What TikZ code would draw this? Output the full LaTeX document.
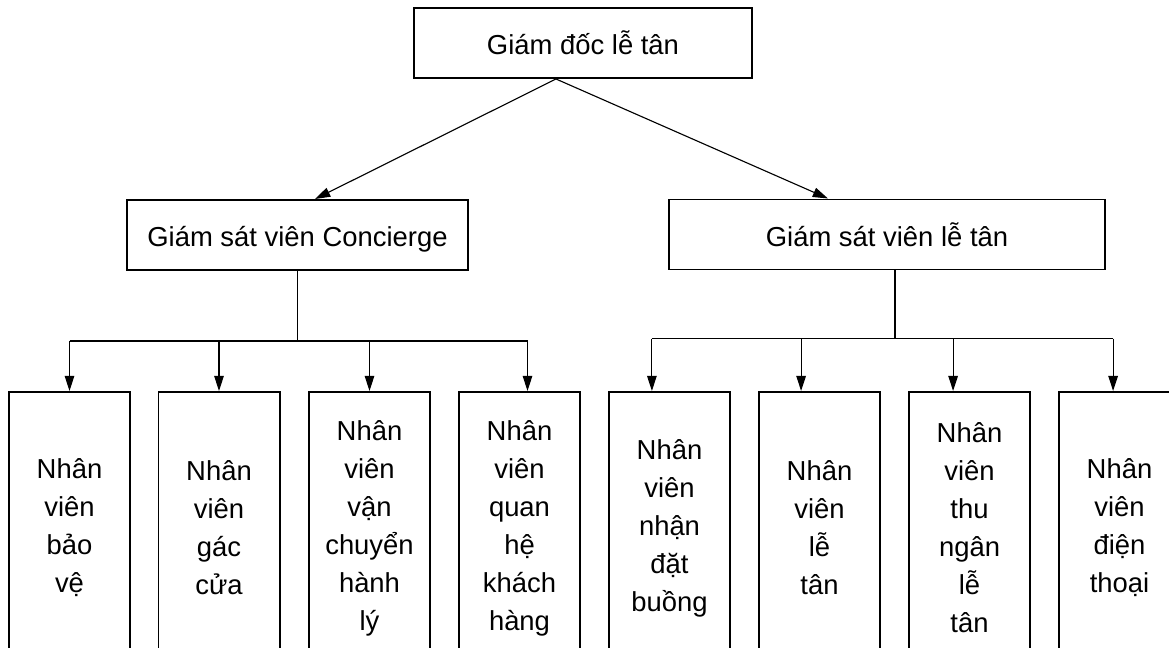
\documentclass[tikz,border=0pt]{standalone}
\usepackage{fontspec}
\setmainfont{Liberation Sans}
\usetikzlibrary{positioning,arrows.meta,calc}

\begin{document}
\begin{tikzpicture}[
  x=0.025cm, y=-0.025cm,
  font=\fontsize{19.5}{27}\selectfont,
  box/.style={draw, line width=1.4pt, inner sep=0pt, align=center},
  headbox/.style={box, minimum height=1.75cm, text height=18pt, text depth=1pt},
  staffbox/.style={box, minimum width=3.025cm, minimum height=6.8cm},
  conn/.style={line width=0.8pt},
  arr/.style={conn, -{Triangle[length=3.8mm, width=2.4mm]}},
]
\useasboundingbox (0,0) rectangle (1169,648);

% ---------- Heads ----------
\node[headbox, minimum width=8.45cm] (gdlt) at (583,43) {Giám đốc lễ tân};
\node[headbox, minimum width=8.525cm] (gscon) at (297.5,235) {Giám sát viên Concierge};
\node[headbox, minimum width=10.9cm] (gslt) at (887,234.5) {Giám sát viên lễ tân};

\draw[arr] ([xshift=-0.675cm]gdlt.south) -- ([xshift=0.44cm]gscon.north);
\draw[arr] ([xshift=-0.675cm]gdlt.south) -- ([xshift=-1.475cm]gslt.north);

% ---------- Staff ----------
\foreach \n/\x/\txt in {
    1/69.5/{Nhân\\viên\\bảo\\vệ},
    2/219/{Nhân\\viên\\gác\\cửa},
    3/369.5/{Nhân\\viên\\vận\\chuyển\\hành\\lý},
    4/519.5/{Nhân\\viên\\quan\\hệ\\khách\\hàng},
    5/669.5/{Nhân\\viên\\nhận\\đặt\\buồng},
    6/819.5/{Nhân\\viên\\lễ\\tân},
    7/969.5/{Nhân\\viên\\thu\\ngân\\lễ\\tân},
    8/1119.5/{Nhân\\viên\\điện\\thoại}}{
  \node[staffbox] (nv\n) at (\x,528) {\txt};
}

% ---------- Buses ----------
\coordinate (busL) at ([yshift=-1.75cm]gscon.south);
\coordinate (busR) at ([xshift=0.2cm, yshift=-1.7cm]gslt.south);
\draw[conn] (gscon.south) -- (busL);
\draw[conn] (gslt.south -| busR) -- (busR);
\draw[conn] (busL -| nv1.north) -- ([xshift=0.2cm]busL -| nv4.north);
\draw[conn] ([xshift=-0.44cm]busR -| nv5.north) -- ([xshift=-0.16cm]busR -| nv8.north);
\foreach \n/\dx in {1/0, 2/0, 3/0, 4/0.2}
  \draw[arr] ([xshift=\dx cm]busL -| nv\n.north) -- ([xshift=\dx cm]nv\n.north);
\foreach \n/\dx in {5/-0.44, 6/-0.46, 7/-0.41, 8/-0.16}
  \draw[arr] ([xshift=\dx cm]busR -| nv\n.north) -- ([xshift=\dx cm]nv\n.north);

\end{tikzpicture}
\end{document}
